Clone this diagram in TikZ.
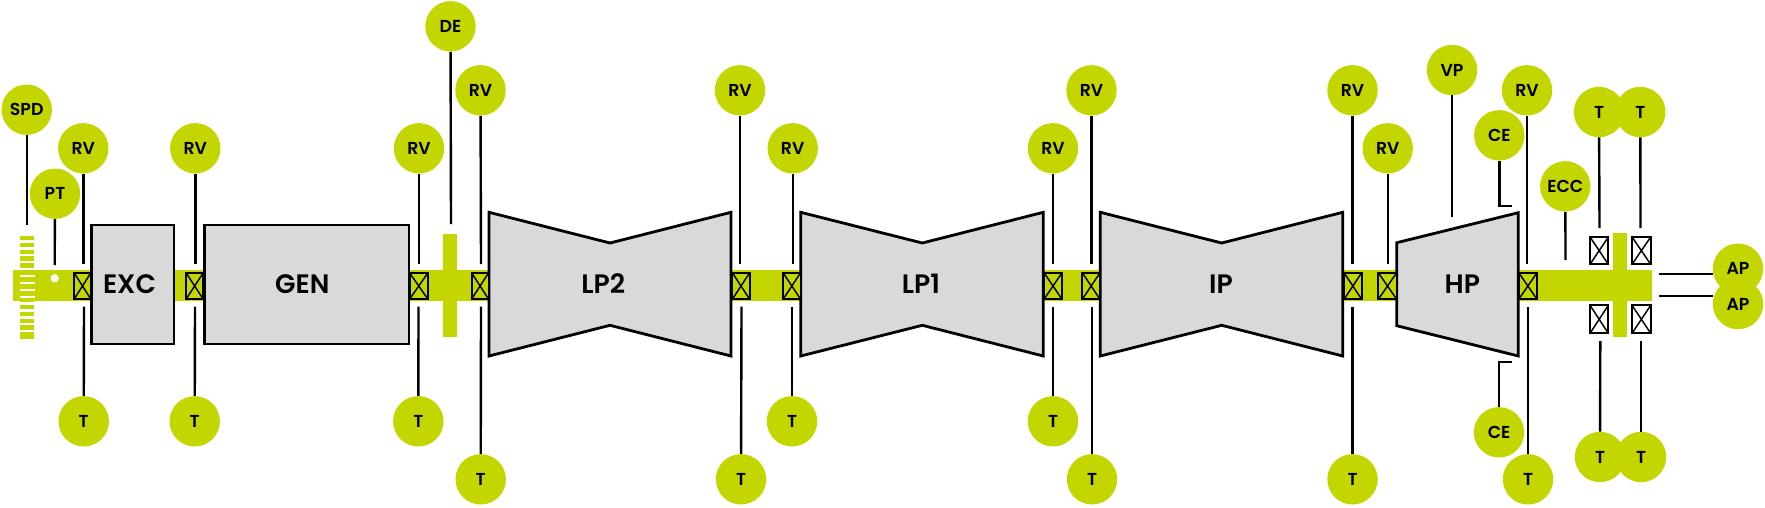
\documentclass[tikz,border=0pt]{standalone}
\usepackage{fontspec}
\setmainfont{Poppins}
\newfontfamily\labelfont{Poppins SemiBold}
\usetikzlibrary{calc}
\definecolor{lime}{HTML}{C4D600}
\definecolor{casing}{HTML}{D9D9D9}
\tikzset{
  x=0.75pt,y=-0.75pt,
  sensor/.style={circle,fill=lime,draw=none,minimum size=37.8pt,inner sep=0pt,font=\labelfont\fontsize{13}{14}\selectfont,text=black},
  lead/.style={draw=black,line width=1.8pt},
  shaft/.style={fill=lime,draw=none},
  unit/.style={fill=casing,draw=black,line width=2.1pt,miter limit=8},
  unitlabel/.style={inner sep=0pt,font=\labelfont\fontsize{20}{21}\selectfont,text=black},
  brg/.style={line width=1.5pt,draw=black},
}
% name, label, x, y, end x, end y
\newcommand{\sensorat}[6]{%
  \node[sensor] (#1) at (#3,#4) {#2};
  \coordinate (#1e) at (#5,#6);
  \draw[lead] (#1) -- (#1e);
}
% x1 x2 y1 y2 fill
\newcommand{\bearingbox}[5]{%
  \draw[brg,fill=#5] (#1,#3) rectangle (#2,#4);
  \draw[brg,line width=1.1pt] (#1,#3) -- (#2,#4) (#1,#4) -- (#2,#3);
}
\begin{document}
\begin{tikzpicture}
\useasboundingbox (0,0) rectangle (1765,507);
% shaft segments
\fill[shaft] (13,269.5) rectangle (92,301);
\fill[shaft] (174,269.5) rectangle (205,301);
\fill[shaft] (409,269.5) rectangle (489,301);
\fill[shaft] (731,269.5) rectangle (801,301);
\fill[shaft] (1043,269.5) rectangle (1101,301);
\fill[shaft] (1342,269.5) rectangle (1397,301);
\fill[shaft] (1518,269.5) rectangle (1651.5,301);
% discs
\fill[shaft] (442.7,234) rectangle (457,337.3);
\fill[shaft] (1612.7,232.7) rectangle (1627,336.7);
% speed wheel
\fill[shaft] (20,235.7) rectangle (34,339.3);
\foreach \k in {0,...,13}{
  \fill[white] (20,{240.3+\k*6.9}) rectangle (35,{242.6+\k*6.9});
}
\fill[white] (54.7,278.3) circle[radius=4.2];
% casings
\draw[unit] (91.5,225) rectangle (174,344);
\draw[unit] (204.5,225) rectangle (409,344);
\draw[unit] (489,212.3) -- (610,243) -- (731,212.3) -- (731,356) -- (610,325.3) -- (489,356) -- cycle;
\draw[unit] (800.7,212.3) -- (922.3,243) -- (1043.3,212.3) -- (1043.3,356) -- (922.3,325.3) -- (800.7,356) -- cycle;
\draw[unit] (1100.3,212.3) -- (1221.7,243) -- (1342.7,212.3) -- (1342.7,356) -- (1221.7,325.3) -- (1100.3,356) -- cycle;
\draw[unit] (1396.7,242.7) -- (1518.3,212.7) -- (1518.3,356) -- (1396.7,325.7) -- cycle;
\node[unitlabel] (exc) at (129.5,284) {EXC};
\node[unitlabel] (gen) at (302.3,284) {GEN};
\node[unitlabel] (lp2) at (603.3,284) {LP2};
\node[unitlabel] (lp1) at (921,284) {LP1};
\node[unitlabel] (ip) at (1221,284) {IP};
\node[unitlabel] (hp) at (1462.3,284) {HP};
% bearings
\bearingbox{74}{91}{272.7}{299.3}{lime}
\bearingbox{186}{203.3}{272.7}{299.3}{lime}
\bearingbox{409.5}{428}{272.7}{299.3}{lime}
\bearingbox{471.5}{488.7}{272.7}{299.3}{lime}
\bearingbox{732.3}{749.7}{272.7}{299.3}{lime}
\bearingbox{783}{800.7}{272.7}{299.3}{lime}
\bearingbox{1044}{1062}{272.7}{299.3}{lime}
\bearingbox{1082.3}{1100}{272.7}{299.3}{lime}
\bearingbox{1344}{1361.7}{272.7}{299.3}{lime}
\bearingbox{1378.3}{1396.7}{272.7}{299.3}{lime}
\bearingbox{1518.7}{1537}{272.7}{299.3}{lime}
\bearingbox{1590}{1608.3}{237}{264.3}{white}
\bearingbox{1632}{1650.7}{237}{264.3}{white}
\bearingbox{1590}{1608.3}{305.3}{333.3}{white}
\bearingbox{1632}{1650.7}{305.3}{333.3}{white}
% sensors above
\sensorat{spd}{SPD}{26.7}{109.7}{26.7}{225}
\sensorat{pt}{PT}{55}{193.7}{54.7}{265}
\sensorat{rva}{RV}{83.3}{148.3}{83.3}{264}
\sensorat{rvb}{RV}{195.3}{148.3}{195.3}{264}
\sensorat{rvc}{RV}{419}{148.3}{419}{264}
\sensorat{de}{DE}{450.5}{26.3}{451}{224}
\sensorat{rvd}{RV}{480.5}{90.3}{481}{264}
\sensorat{rve}{RV}{740}{90.3}{740}{264}
\sensorat{rvf}{RV}{792.7}{148.3}{792.7}{264}
\sensorat{rvg}{RV}{1053}{148.3}{1053}{264}
\sensorat{rvh}{RV}{1091.5}{90.3}{1091.5}{264}
\sensorat{rvi}{RV}{1352.5}{90.3}{1352.5}{264}
\sensorat{rvj}{RV}{1387.7}{148.3}{1387.7}{264}
\sensorat{vp}{VP}{1452}{70}{1452}{217}
\sensorat{rvk}{RV}{1527}{90.3}{1527}{264}
\sensorat{ecc}{ECC}{1565.3}{186.3}{1565.5}{260}
\sensorat{tua}{T}{1599}{112}{1599.5}{228}
\sensorat{tub}{T}{1640.3}{112}{1640.5}{228}
% sensors below
\sensorat{ta}{T}{83.7}{421.3}{84}{306.5}
\sensorat{tb}{T}{194.7}{421.3}{195}{306.5}
\sensorat{tc}{T}{418.3}{421.3}{418.5}{306.5}
\sensorat{td}{T}{480.7}{479.3}{481}{306.5}
\sensorat{te}{T}{741}{479.3}{741.5}{306.5}
\sensorat{tf}{T}{792}{421.3}{792}{306.5}
\sensorat{tg}{T}{1053}{421.3}{1053}{306.5}
\sensorat{th}{T}{1092}{479.3}{1092}{306.5}
\sensorat{ti}{T}{1352.5}{479.3}{1352.5}{306.5}
\sensorat{tj}{T}{1528}{479.3}{1528}{306.5}
\sensorat{tla}{T}{1600}{457}{1600.3}{341}
\sensorat{tlb}{T}{1641}{457}{1641}{341}
% casing expansion with elbows
\node[sensor] (cea) at (1499.3,135.3) {CE};
\coordinate (ceae) at (1511.7,205.7);
\draw[lead] (cea) |- (ceae);
\node[sensor] (ceb) at (1499,432.3) {CE};
\coordinate (cebe) at (1511.7,361.7);
\draw[lead] (ceb) |- (cebe);
% axial position
\node[sensor] (apa) at (1738,268.7) {AP};
\coordinate (apae) at (1658.7,273.7);
\draw[lead] (apa.west |- apae) -- (apae);
\node[sensor] (apb) at (1738,304) {AP};
\coordinate (apbe) at (1658.7,296);
\draw[lead] (apb.west |- apbe) -- (apbe);
\end{tikzpicture}
\end{document}
